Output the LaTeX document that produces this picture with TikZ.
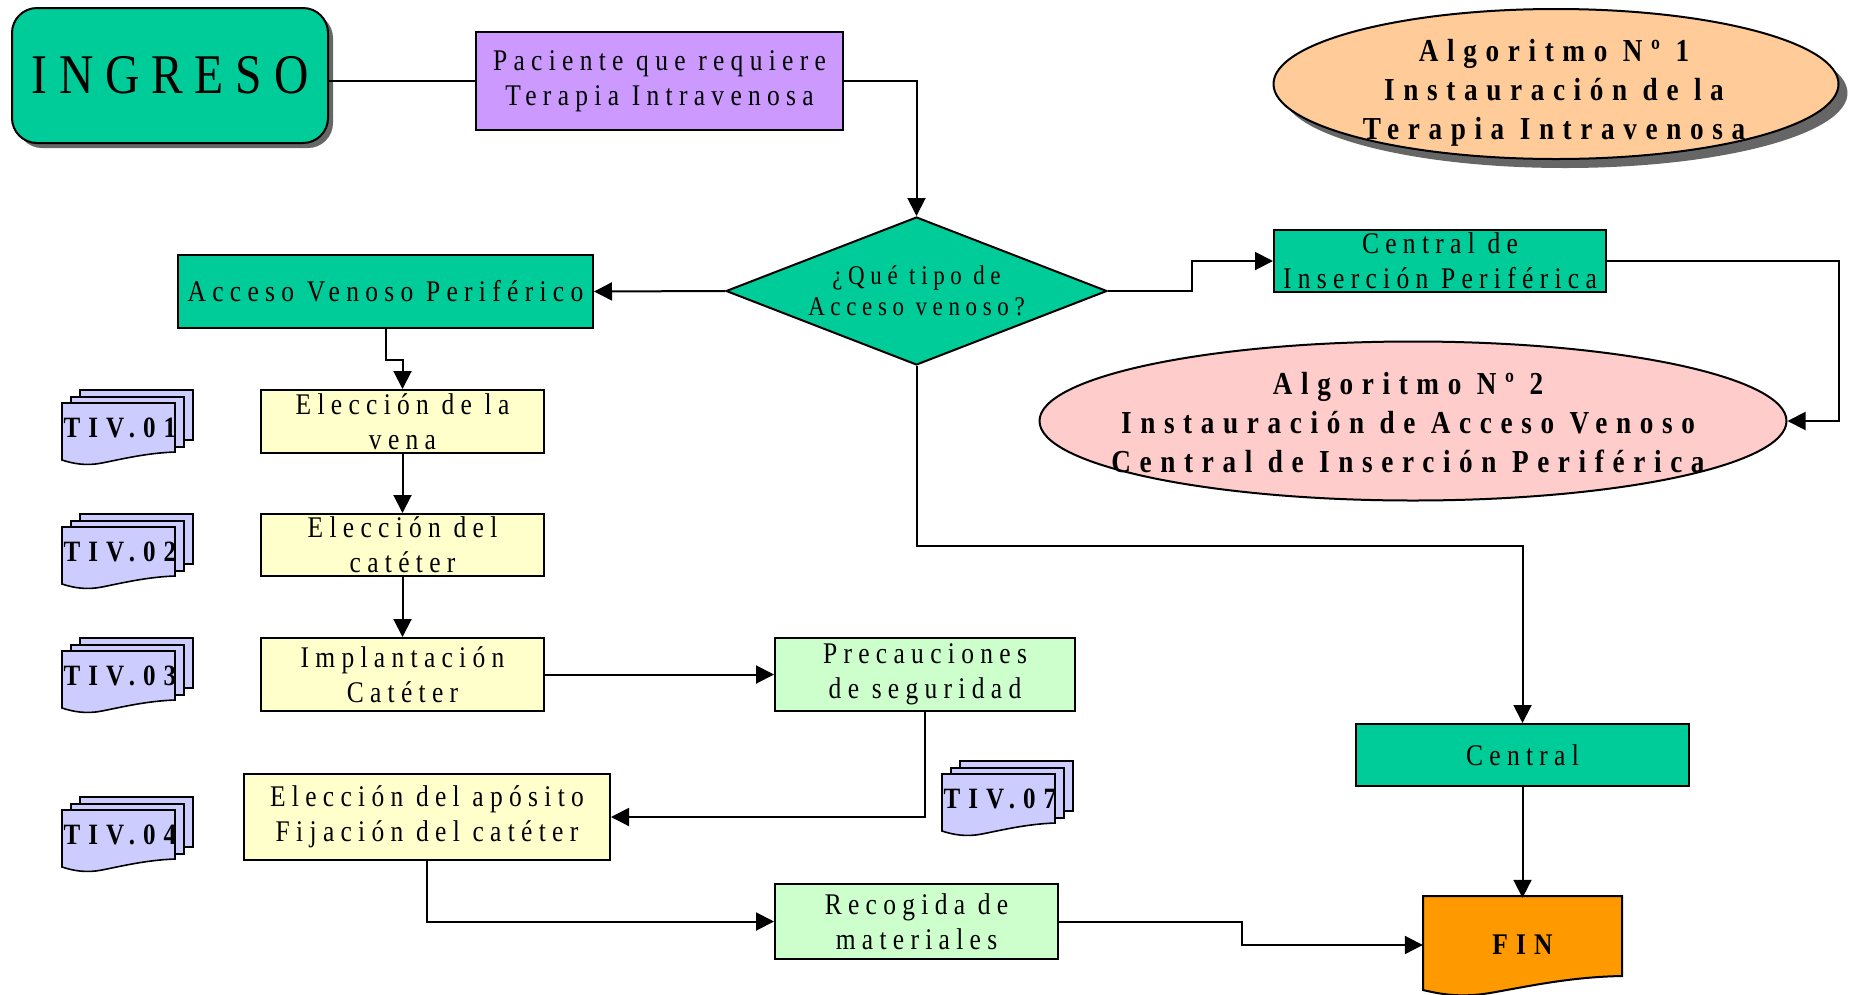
\documentclass[tikz,border=0pt]{standalone}
\usepackage{fontspec}
\setmainfont{Liberation Serif}
\newfontfamily\sprm[LetterSpace=21,FakeStretch=0.85]{Liberation Serif}
\newfontfamily\spbf[LetterSpace=27,FakeStretch=0.85]{Liberation Serif}
\usetikzlibrary{shapes.geometric,arrows.meta,shadows}
\definecolor{cgreen}{HTML}{00CC99}
\definecolor{cpurple}{HTML}{CC99FF}
\definecolor{cpeach}{HTML}{FFCC99}
\definecolor{cpink}{HTML}{FFCCCC}
\definecolor{cyellow}{HTML}{FFFFCC}
\definecolor{clgreen}{HTML}{CCFFCC}
\definecolor{clav}{HTML}{CCCCFF}
\definecolor{corange}{HTML}{FF9900}
\tikzset{
  base/.style={draw, line width=2pt, inner sep=0pt, align=center, font=\sprm\fontsize{30}{35}\selectfont},
  box/.style={base, rectangle},
  conn/.style={line width=2pt},
  arr/.style={conn, -{Triangle[length=18pt,width=18pt]}},
  docstyle/.style={draw, line width=1.6pt, fill=clav},
  tivtext/.style={inner sep=0pt, font=\spbf\bfseries\fontsize{29.5}{30}\selectfont},
  algtext/.style={inner sep=0pt, align=center, font=\spbf\bfseries\fontsize{32}{39}\selectfont},
}
\newcommand\tivdoc[4]{%
  \filldraw[docstyle] (#1+18,#2-13) rectangle (#1+131,#2+37);
  \filldraw[docstyle] (#1+9,#2-6) rectangle (#1+122,#2+44);
  \filldraw[docstyle] (#1,#2) -- (#1+113,#2) -- (#1+113,#2+49)
     .. controls (#1+85,#2+50) and (#1+60,#2+56) .. (#1+40,#2+60)
     .. controls (#1+25,#2+63) and (#1+12,#2+61) .. (#1,#2+57) -- cycle;
  \node[tivtext] (#4) at (#1+58,#2+25) {#3};
}
\begin{document}
\begin{tikzpicture}[x=1pt,y=-1pt]
\useasboundingbox (0,0) rectangle (1858,994);

% nodes
\node[box, rounded corners=25pt, fill=cgreen, minimum width=316pt, minimum height=135pt,
      font=\sprm\fontsize{56}{60}\selectfont,
      drop shadow={shadow xshift=5pt, shadow yshift=-5pt, fill=black!60, opacity=1}]
      (ingreso) at (170,75.5) {INGRESO};
\node[box, fill=cpurple, minimum width=367pt, minimum height=98pt] (pac) at (659.5,81)
      {Paciente que requiere\\Terapia Intravenosa};
\node[base, diamond, aspect=2.57, minimum width=381pt, minimum height=148pt, fill=cgreen,
      font=\sprm\fontsize{27}{31}\selectfont] (dia) at (916.5,291) {¿Qué tipo de\\Acceso venoso?};
\node[box, fill=cgreen, minimum width=415pt, minimum height=73pt] (avp) at (385.5,291.5)
      {Acceso Venoso Periférico};
\node[box, fill=cgreen, minimum width=332pt, minimum height=62pt] (cip) at (1440,261)
      {Central de\\Inserción Periférica};
\node[draw, line width=2pt, ellipse, fill=cpeach, minimum width=565pt, minimum height=150pt, inner sep=0pt,
      drop shadow={shadow xshift=9pt, shadow yshift=-9pt, fill=black!60, opacity=1}]
      (alg1) at (1556,84) {};
\node[algtext] (alg1t) at (1554,93) {Algoritmo Nº 1\\Instauración de la\\Terapia Intravenosa};
\node[draw, line width=2pt, ellipse, fill=cpink, minimum width=747pt, minimum height=159pt, inner sep=0pt]
      (alg2) at (1413,421) {};
\node[algtext] (alg2t) at (1408,423) {Algoritmo Nº 2\\Instauración de Acceso Venoso\\Central de Inserción Periférica};
\node[box, fill=cgreen, minimum width=333pt, minimum height=62pt] (central) at (1522.5,755) {Central};

\node[box, fill=cyellow, minimum width=283pt, minimum height=63pt] (vena) at (402.5,421.5)
      {Elección de la\\vena};
\node[box, fill=cyellow, minimum width=283pt, minimum height=62pt] (cat) at (402.5,545)
      {Elección del\\catéter};
\node[box, fill=cyellow, minimum width=283pt, minimum height=73pt] (impl) at (402.5,674.5)
      {Implantación\\Catéter};
\node[box, fill=clgreen, minimum width=300pt, minimum height=73pt] (prec) at (925,674.5)
      {Precauciones\\de seguridad};
\node[box, fill=cyellow, minimum width=366pt, minimum height=86pt] (apos) at (427,817)
      {Elección del apósito\\Fijación del catéter};
\node[box, fill=clgreen, minimum width=283pt, minimum height=75pt] (rec) at (916.5,921.5)
      {Recogida de\\materiales};

% FIN document shape
\filldraw[draw, line width=2pt, fill=corange] (1423,896) -- (1622,896) -- (1622,976)
   .. controls (1570,977) and (1530,986) .. (1490,993)
   .. controls (1460,998) and (1440,994) .. (1423,990) -- cycle;
\node[inner sep=0pt, minimum width=199pt, minimum height=94pt,
      font=\spbf\bfseries\fontsize{30}{32}\selectfont] (fin) at (1522.5,945) {FIN};

% TIV documents
\tivdoc{62}{403}{TIV.01}{tiv1}
\tivdoc{62}{527}{TIV.02}{tiv2}
\tivdoc{62}{651}{TIV.03}{tiv3}
\tivdoc{62}{810}{TIV.04}{tiv4}
\tivdoc{942}{774}{TIV.07}{tiv7}

% connectors
\draw[conn] (ingreso.east |- pac.west) -- (pac.west);
\draw[arr] (pac.east) -| (dia.north);
\draw[arr] (dia.west) -- (avp.east);
\draw[arr] (dia.east) -- ++(84,0) |- (cip.west);
\draw[arr] (cip.east) -- ++(232,0) |- (alg2.east);
\draw[arr] (dia.south) -- ++(0,180) -| (central.north);
\draw[arr] (central.south) -- (fin.north);
\draw[arr] (avp.south) -- ++(0,31) -| (vena.north);
\draw[arr] (vena.south) -- (cat.north);
\draw[arr] (cat.south) -- (impl.north);
\draw[arr] (impl.east) -- (prec.west);
\draw[arr] (prec.south) |- (apos.east);
\draw[arr] (apos.south) |- (rec.west);
\draw[arr] (rec.east) -- ++(183,0) |- (fin.west);
\end{tikzpicture}
\end{document}
